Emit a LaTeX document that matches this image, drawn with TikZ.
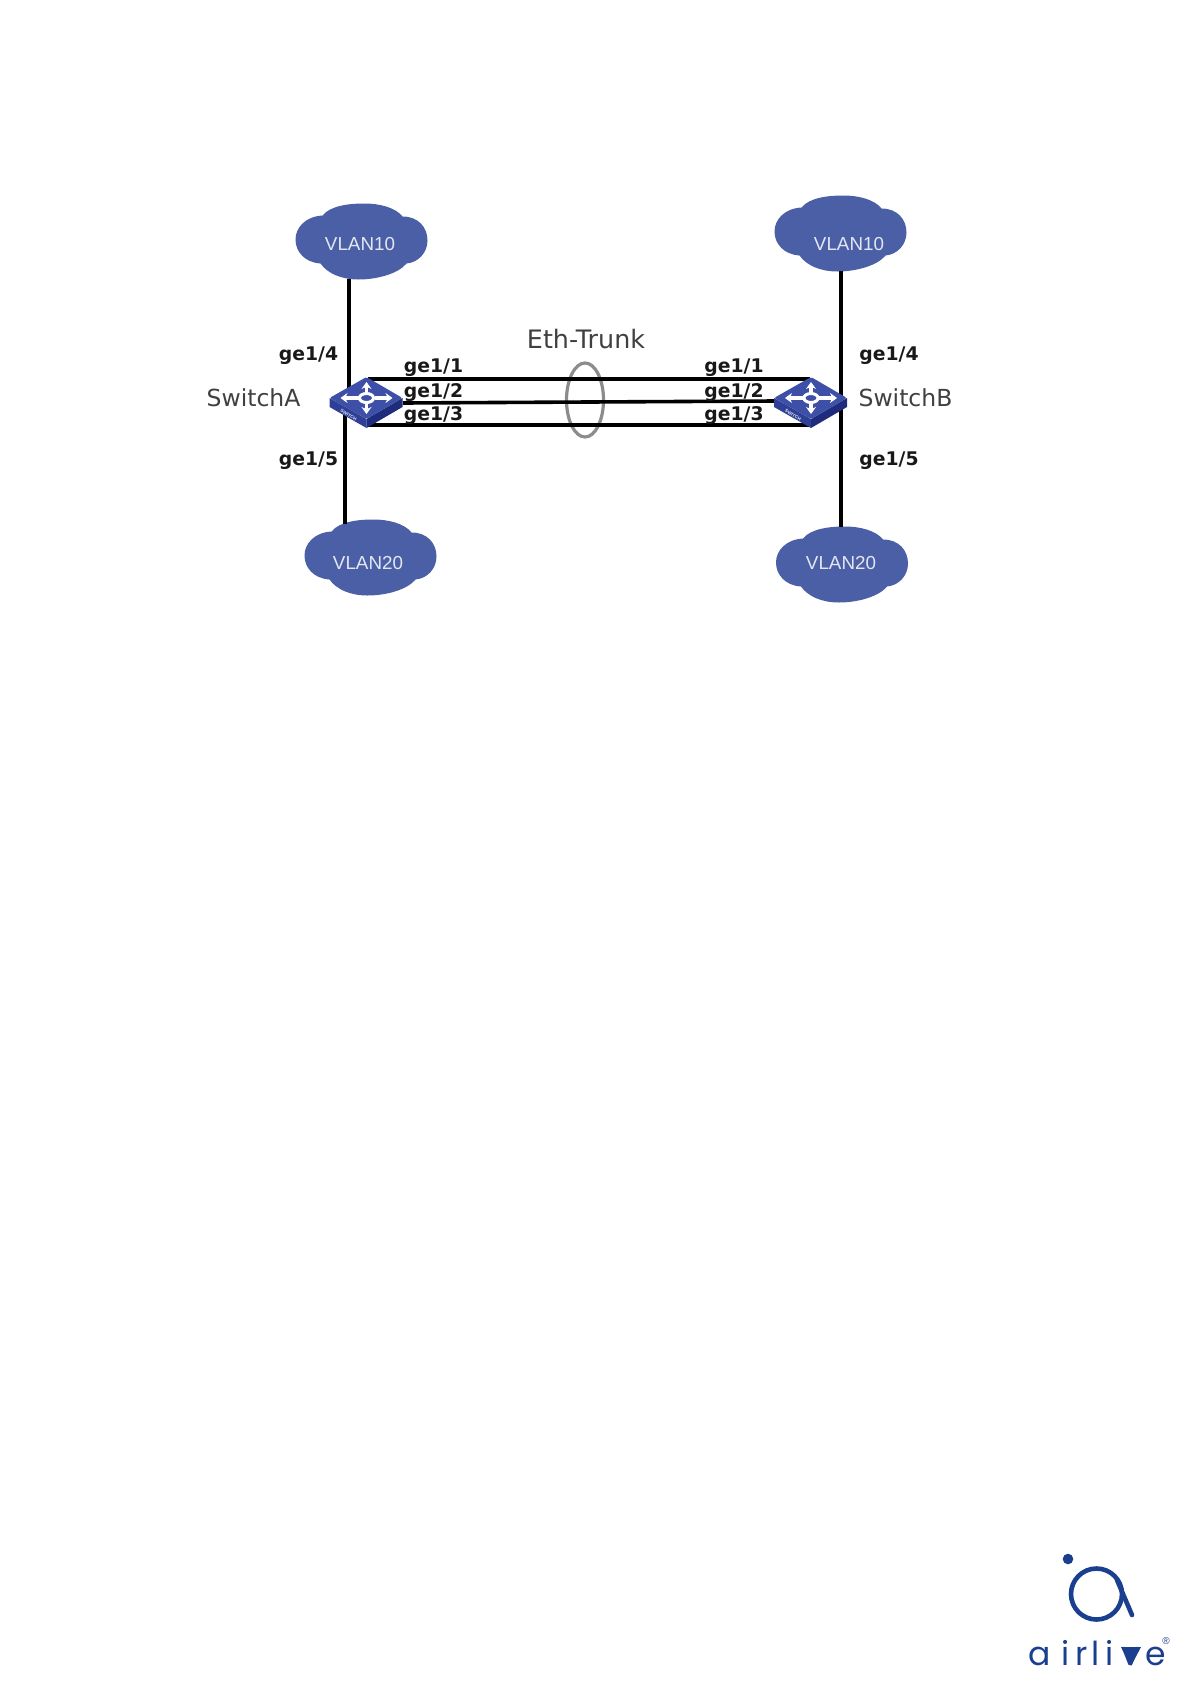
\documentclass[tikz,border=0pt]{standalone}
\usepackage{fontspec}
\usepackage{tikz}
\usetikzlibrary{shapes.geometric,arrows.meta}
\setmainfont{Liberation Sans}
\newfontfamily\labelfont{DejaVu Sans}
\newfontfamily\logofont{Poppins}
\definecolor{cloudblue}{HTML}{4A5FA6}
\definecolor{swtop}{HTML}{3E4FA8}
\definecolor{swleft}{HTML}{2F3F96}
\definecolor{swright}{HTML}{1F2C7C}
\definecolor{logoblue}{HTML}{1B3F8F}
\tikzset{
  vcloud/.style={minimum width=132pt,minimum height=75pt,inner sep=0pt},
  vcloudtext/.style={inner sep=0pt,text=white!85!cloudblue,font=\fontsize{18.8}{22}\selectfont},
  link/.style={draw=black,line width=3.6pt},
  portlabel/.style={inner sep=0pt,font=\labelfont\bfseries\fontsize{18.8}{22}\selectfont,text=black!90},
  swlabel/.style={inner sep=0pt,font=\labelfont\fontsize{23.5}{27}\selectfont,text=black!75},
  swbox/.style={minimum width=73pt,minimum height=51pt,inner sep=0pt},
  swarrow/.style={white,line width=3.2pt,-{Stealth[length=7pt,width=10pt]}},
  logoletter/.style={anchor=base,inner sep=0pt,text=logoblue,font=\logofont\fontsize{33}{36}\selectfont}
}
\newcommand{\vlancloud}[5]{%
  \fill[cloudblue,shift={(#2)}] (-66,-2) .. controls (-66,-14) and (-56,-25) .. (-39,-26)
    .. controls (-31,-36) and (-12,-38) .. (3,-38)
    .. controls (18,-38) and (34,-34) .. (41,-25)
    .. controls (57,-25) and (66,-14) .. (66,-1)
    .. controls (66,11) and (57,21) .. (45,22)
    .. controls (37,32) and (16,38) .. (-3,38)
    .. controls (-20,38) and (-34,32) .. (-41,22)
    .. controls (-57,21) and (-66,10) .. (-66,-2) -- cycle;
  \node (#1) [vcloud,label={[vcloudtext,xshift=#4pt,yshift=#5pt]center:#3}] at (#2) {};}
\newcommand{\switchicon}[1]{%
  \begin{scope}[shift={(#1.center)},yshift=5pt]
    \fill[swleft] (-37,0) -- (0,21) -- (0,30) -- (-37,9) -- cycle;
    \fill[swright] (36,0) -- (0,21) -- (0,30) -- (36,9) -- cycle;
    \fill[swtop,rounded corners=1.5pt] (-37,0) -- (0,-21) -- (36,0) -- (0,21) -- cycle;
    \draw[swarrow] (-8,0) -- (-26,0);
    \draw[swarrow] (8,0) -- (26,0);
    \draw[swarrow] (0,-4) -- (0,-16);
    \draw[swarrow] (0,4) -- (0,16);
    \draw[white,line width=3pt] (0,0) ellipse (7 and 4.5);
    \node (#1text) [white!85!swleft,inner sep=0pt,font=\bfseries\fontsize{4.5}{5}\selectfont,rotate=-30] at (-18,17) {SWITCH};
  \end{scope}}
\begin{document}
\begin{tikzpicture}[>=stealth, x=1pt, y=-1pt]
\useasboundingbox (0,0) rectangle (1191,1684);
\vlancloud{a10}{361.5,241.5}{VLAN10}{-1.5}{-2.5}
\vlancloud{a20}{370.5,557.5}{VLAN20}{-2.5}{-5.5}
\vlancloud{b10}{840.5,233.5}{VLAN10}{8.5}{-10.5}
\vlancloud{b20}{842,564.5}{VLAN20}{-1}{1.5}
\node (sa) [swbox] at (366.5,403) {};
\node (sb) [swbox] at (811,403) {};
\node (trunk) [ellipse,draw=black!45,line width=3.2pt,minimum width=37pt,minimum height=74pt,inner sep=0pt] at (585,400) {};
\coordinate (sa1) at (368,379);
\coordinate (sa2) at (403,403);
\coordinate (sa3) at (368,425);
\coordinate (sa4) at (349,392);
\coordinate (sa5) at (345,412);
\coordinate (sb1) at (810,379);
\coordinate (sb2) at (775,401);
\coordinate (sb3) at (812,425);
\coordinate (sb4) at (841,396);
\coordinate (sb5) at (841,406);
\draw[link] (sa1) -- (sb1);
\draw[link] (sa2) -- (sb2);
\draw[link] (sa3) -- (sb3);
\draw[link] (a10.south -| sa4) -- (sa4);
\draw[link,shorten <=-4pt] (a20.north -| sa5) -- (sa5);
\draw[link] (b10.south -| sb4) -- (sb4);
\draw[link] (b20.north -| sb5) -- (sb5);
\switchicon{sa}
\switchicon{sb}
\node (trunklabel) [swlabel,font=\labelfont\fontsize{25.4}{29}\selectfont] at (586,339) {Eth-Trunk};
\node (salabel) [swlabel] at (253.5,398) {SwitchA};
\node (sblabel) [swlabel] at (905.5,398) {SwitchB};
\node (pa4) [portlabel] at (308.5,355.5) {ge1/4};
\node (pa5) [portlabel] at (308.5,460.5) {ge1/5};
\node (pa1) [portlabel] at (433.5,367.5) {ge1/1};
\node (pa2) [portlabel] at (433.5,392.5) {ge1/2};
\node (pa3) [portlabel] at (433.5,415.5) {ge1/3};
\node (pb1) [portlabel] at (734,367.5) {ge1/1};
\node (pb2) [portlabel] at (734,392.5) {ge1/2};
\node (pb3) [portlabel] at (734,415.5) {ge1/3};
\node (pb4) [portlabel] at (889,355.5) {ge1/4};
\node (pb5) [portlabel] at (889,460.5) {ge1/5};
\fill[logoblue] (1068,1559) circle (5.3);
\draw[logoblue,line width=4.6pt] (1096.5,1594) circle (25.5);
\draw[logoblue,line width=4.6pt,line cap=round] (1117,1580) -- (1132,1615);
\node (la) [logoletter] at (1040,1665) {a};
\node (li) [logoletter] at (1066,1665) {i};
\node (lr) [logoletter] at (1082,1665) {r};
\node (ll) [logoletter] at (1096,1665) {l};
\node (lj) [logoletter] at (1110,1665) {i};
\node (lv) [logoletter] at (1131,1665) {v};
\fill[logoblue] (1121,1647) -- (1141,1647) -- (1131,1666) -- cycle;
\node (le) [logoletter] at (1156,1665) {e};
\node (lr2) [inner sep=0pt,text=logoblue,font=\fontsize{10}{11}\selectfont] at (1166,1641) {®};
\end{tikzpicture}
\end{document}
